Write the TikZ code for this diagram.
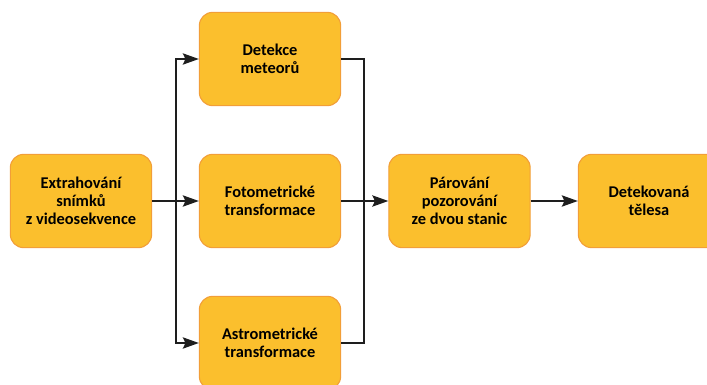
\documentclass[tikz,border=0pt]{standalone}
\usepackage{fontspec}
\setmainfont{Carlito}
\usetikzlibrary{arrows.meta}
\definecolor{boxfill}{RGB}{251,191,45}
\definecolor{boxline}{RGB}{242,158,56}
\definecolor{wire}{RGB}{30,30,30}
\tikzset{
  stage/.style={draw=boxline, line width=0.8pt, fill=boxfill, rounded corners=10pt,
    minimum width=106pt, minimum height=70pt, align=center,
    font=\fontsize{12.3}{13.6}\selectfont\bfseries},
  flow/.style={draw=wire, line width=1.1pt, -{Stealth[length=12pt,width=8.5pt,inset=2pt]}},
  wireline/.style={draw=wire, line width=1.1pt}
}

\begin{document}
\begin{tikzpicture}[x=0.75pt,y=-0.75pt]
\clip (0,0) rectangle (707,385);
\node[stage] (extr) at (81,201) {Extrahování\\snímků\\z videosekvence};
\node[stage] (detekce) at (270,59) {Detekce\\meteorů};
\node[stage] (foto) at (270,201) {Fotometrické\\transformace};
\node[stage] (astro) at (270,343) {Astrometrické\\transformace};
\node[stage] (parovani) at (459.5,201) {Párování\\pozorování\\ze dvou stanic};
\node[stage] (telesa) at (649,201) {Detekovaná\\tělesa};
\coordinate (split) at (176,201);
\coordinate (join) at (364,201);
\draw[flow] (extr) -- (foto);
\draw[flow] (split) |- (detekce);
\draw[flow] (split) |- (astro);
\draw[wireline] (detekce) -| (join);
\draw[wireline] (astro) -| (join);
\draw[flow] (foto) -- (parovani);
\draw[flow] (parovani) -- (telesa);
\end{tikzpicture}
\end{document}
